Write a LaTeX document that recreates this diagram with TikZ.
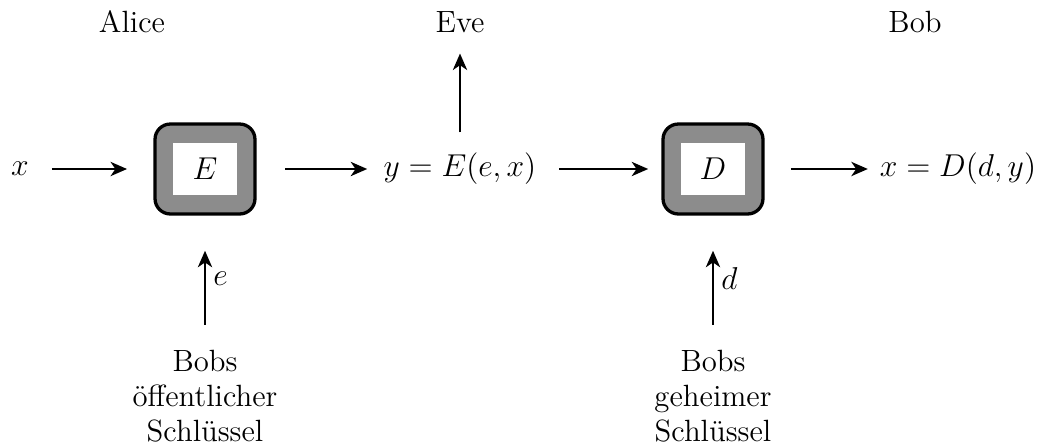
\documentclass[tikz,border=0pt]{standalone}
\usepackage{amsmath}
\usepackage{amssymb}
\usepackage{tikz}
\usepackage{xcolor}
\usetikzlibrary{arrows.meta}

\tikzset{
  cipherbox/.style={draw,line width=1.5pt,rounded corners=7pt,fill=black!45,minimum width=1.6cm,minimum height=1.44cm},
  whitebox/.style={fill=white,minimum width=1.02cm,minimum height=0.84cm,inner sep=0pt},
  arr/.style={-{Stealth[length=7.5pt,width=6.5pt,inset=2.2pt]},line width=1pt},
  keytext/.style={align=center}
}

\begin{document}
\begin{tikzpicture}[x=0.016cm,y=-0.016cm,font=\fontsize{14}{16}\selectfont]
  \useasboundingbox (0,0) rectangle (1045,447);
  % top row
  \node (alice) at (132,22) {Alice}; \node (eve) at (460,22) {Eve}; \node (bob) at (915,22) {Bob};
  % main row
  \node (xin) at (20,169) {$x$};
  \node[cipherbox] (E) at (205,169) {}; \node[whitebox] (Ein) at (E) {$E$};
  \node (ytxt) at (460,169) {$y = E(e,x)$};
  \node[cipherbox] (D) at (713,169) {}; \node[whitebox] (Din) at (D) {$D$};
  \node (xout) at (958,169) {$x = D(d,y)$};
  % keys
  \node[keytext] (pubkey) at (205,396) {Bobs\\öffentlicher\\Schlüssel};
  \node[keytext] (seckey) at (713,396) {Bobs\\geheimer\\Schlüssel};
  % arrows
  \draw[arr,shorten <=7pt,shorten >=12pt] (xin) -- (E);
  \draw[arr,shorten <=13pt,shorten >=4pt] (E) -- (ytxt);
  \draw[arr,shorten <=7pt,shorten >=6pt] (ytxt) -- (D);
  \draw[arr,shorten <=12pt,shorten >=2pt] (D) -- (xout);
  \draw[arr,shorten <=6pt,shorten >=6pt] (ytxt.north) -- (eve.south);
  \draw[arr,shorten <=8pt,shorten >=16pt] (pubkey) -- (E) node[midway,right] {$e$};
  \draw[arr,shorten <=8pt,shorten >=16pt] (seckey) -- (D) node[midway,right] {$d$};
\end{tikzpicture}
\end{document}
